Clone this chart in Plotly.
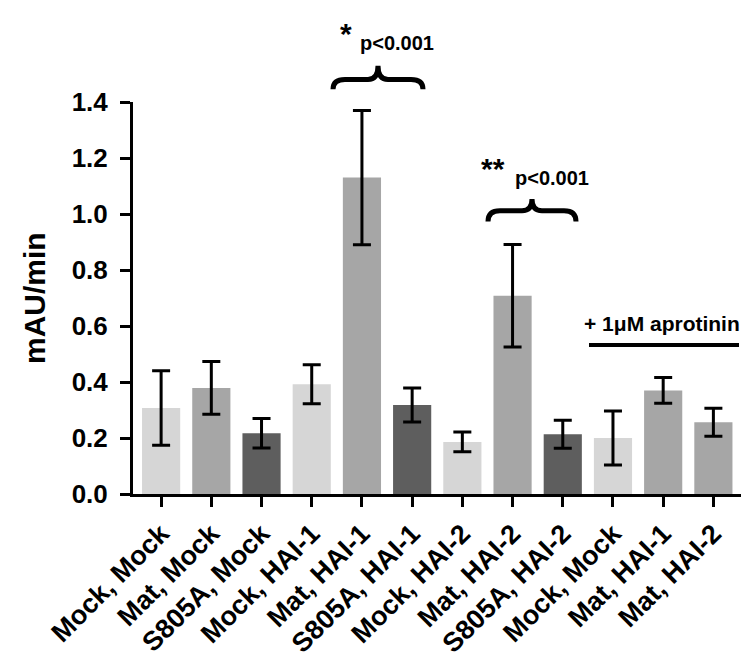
import plotly.graph_objects as go

# ---- data ----
labels = ["Mock, Mock", "Mat, Mock", "S805A, Mock", "Mock, HAI-1", "Mat, HAI-1",
          "S805A, HAI-1", "Mock, HAI-2", "Mat, HAI-2", "S805A, HAI-2",
          "Mock, Mock", "Mat, HAI-1", "Mat, HAI-2"]
means = [0.307, 0.379, 0.217, 0.392, 1.130, 0.318, 0.186, 0.708, 0.213, 0.200, 0.370, 0.256]
errors = [0.133, 0.094, 0.053, 0.070, 0.240, 0.061, 0.035, 0.183, 0.050, 0.096, 0.046, 0.050]
y_ticks = [0.0, 0.2, 0.4, 0.6, 0.8, 1.0, 1.2, 1.4]

LIGHT, MED, DARK = "#d6d6d6", "#a6a6a6", "#5e5e5e"
colors = [LIGHT, MED, DARK, LIGHT, MED, DARK, LIGHT, MED, DARK, LIGHT, MED, MED]

W, H = 750, 663
ML, MR, MT, MB = 125, 17, 94, 169
PW, PH = W - ML - MR, H - MT - MB

def px(x):
    return (x - ML) / PW

def py(y):
    return (H - MB - y) / PH

FONT = "Liberation Sans"
xs = list(range(len(labels)))

fig = go.Figure()
fig.add_trace(go.Bar(
    x=xs, y=means, width=0.76,
    marker=dict(color=colors, line=dict(width=0)),
    error_y=dict(type="data", array=errors, visible=True,
                 color="black", thickness=3, width=9),
    showlegend=False,
))

def brace(x0, x1, y_end, y_body, y_peak):
    xc = (x0 + x1) / 2
    h = 12
    h2 = 10
    pts = [
        f"M {px(x0)},{py(y_end)}",
        f"Q {px(x0)},{py(y_body)} {px(x0 + h)},{py(y_body)}",
        f"L {px(xc - h2)},{py(y_body)}",
        f"Q {px(xc)},{py(y_body)} {px(xc)},{py(y_peak)}",
        f"Q {px(xc)},{py(y_body)} {px(xc + h2)},{py(y_body)}",
        f"L {px(x1 - h)},{py(y_body)}",
        f"Q {px(x1)},{py(y_body)} {px(x1)},{py(y_end)}",
    ]
    return dict(type="path", xref="paper", yref="paper", path=" ".join(pts),
                line=dict(color="black", width=5))

shapes = [
    brace(325, 415, 81, 71, 57),
    brace(480, 568, 216, 205, 193),
    dict(type="line", xref="paper", yref="paper",
         x0=px(581), x1=px(731), y0=py(342), y1=py(342),
         line=dict(color="black", width=4)),
]

def ann(text, x, y, size, xanchor="center"):
    return dict(text=text, x=px(x), y=py(y), xref="paper", yref="paper",
                showarrow=False, xanchor=xanchor, yanchor="middle",
                font=dict(family=FONT, size=size, color="black", weight="bold"))

annotations = [
    ann("*", 338, 24, 30),
    ann("p<0.001", 389, 34, 20),
    ann("**", 485, 162, 30),
    ann("p<0.001", 544, 172, 20),
    ann("+ 1\u03bcM aprotinin", 654, 320, 21),
    dict(text="mAU/min", x=px(26), y=0.5, xref="paper", yref="paper",
         showarrow=False, textangle=-90, xanchor="center", yanchor="middle",
         font=dict(family=FONT, size=30, color="black", weight="bold")),
]

fig.update_layout(
    width=W, height=H,
    margin=dict(l=ML, r=MR, t=MT, b=MB, pad=0),
    paper_bgcolor="white", plot_bgcolor="white",
    shapes=shapes, annotations=annotations,
    bargap=0.2,
)
fig.update_xaxes(
    range=[-0.56, 11.55], tickmode="array", tickvals=xs, ticktext=labels,
    tickangle=-45, showline=True, linecolor="black", linewidth=3,
    ticks="outside", ticklen=10, tickwidth=3, tickcolor="black",
    showgrid=False, zeroline=False,
    tickfont=dict(family=FONT, size=27, color="black", weight="bold"),
)
fig.update_yaxes(
    range=[0, 1.4], tickmode="array", tickvals=y_ticks,
    ticktext=[f"{v:.1f}" for v in y_ticks],
    showline=True, linecolor="black", linewidth=3,
    ticks="outside", ticklen=10, tickwidth=3, tickcolor="black",
    ticklabelstandoff=7,
    showgrid=False, zeroline=False,
    tickfont=dict(family=FONT, size=26, color="black", weight="bold"),
)

fig.write_html("out.html")
